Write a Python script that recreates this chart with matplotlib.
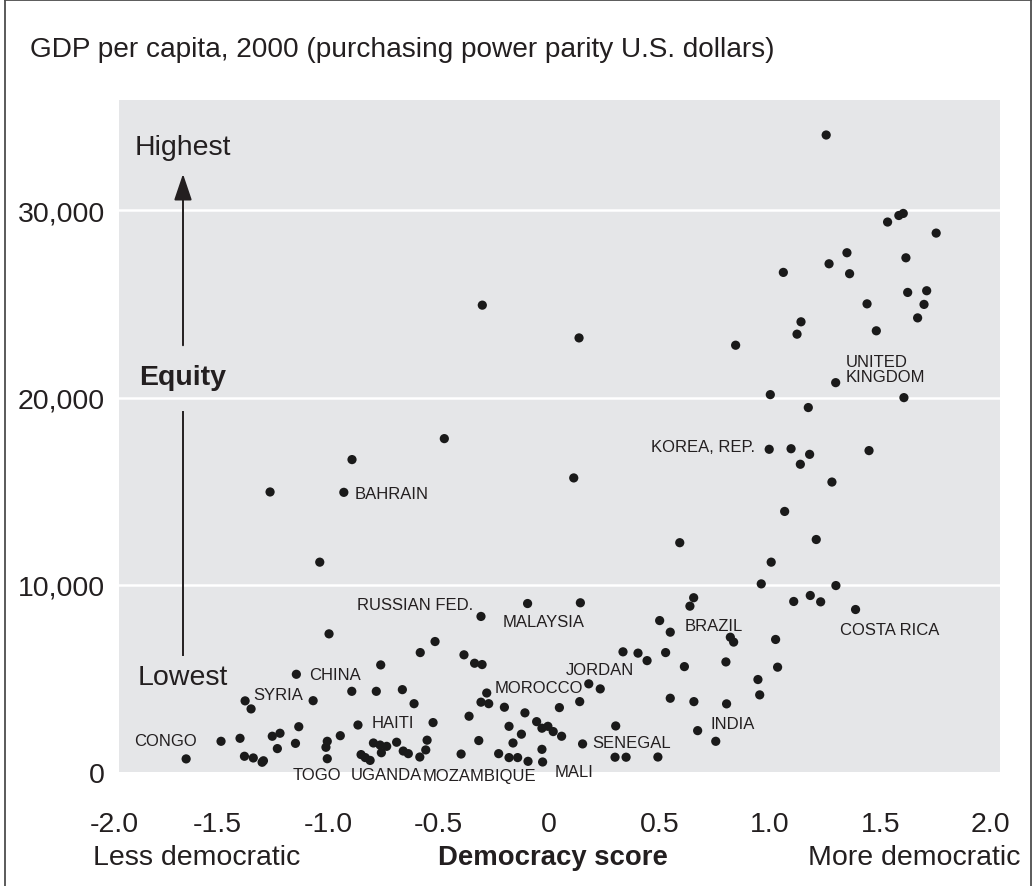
import matplotlib
matplotlib.use("Agg")
import matplotlib.pyplot as plt
from matplotlib import font_manager
from matplotlib.lines import Line2D
import matplotlib.transforms as mtrans

# ---------------- data ----------------
democracy = [
    1.255, 1.604, 1.584, 1.533, 1.753, 1.349, 1.616, 1.268, 1.061, 1.361,
    1.710, 1.624, 1.440, 1.698, 1.669, 1.141, 1.482, 1.123, 0.136, 0.845,
    1.298, 1.002, 1.607, 1.174, -0.302, -0.474, -0.892, -1.263, -0.929, -1.038,
    0.997, 1.096, 1.180, 1.138, 1.449, 0.112, 1.281, 1.067, 1.210, 0.592,
    1.006, 0.961, 1.299, 1.183, 1.108, 1.230, 1.388, 0.142, -0.097, -0.308,
    0.655, 0.638, 0.501, 0.549, 0.821, 0.836, 1.026, 0.335, 0.403, 0.444,
    0.528, 0.613, 0.801, 1.035, 0.946, 0.954, 0.180, 0.232, 0.139, 0.047,
    0.549, 0.656, 0.804, 0.673, 0.755, 0.302, 0.152, 0.019, 0.057, 0.299,
    0.349, 0.493, -0.029, -0.996, -0.516, -0.583, -0.385, -0.337, -0.303, -0.762,
    -1.144, -1.376, -1.349, -1.068, -0.893, -0.782, -0.664, -0.611, -0.282, -0.308,
    -0.273, -0.202, -0.109, -0.362, -0.525, -0.865, -1.133, -0.181, -0.056, -0.032,
    -0.005, -0.125, -0.163, -0.032, -0.095, -0.142, -0.181, -0.228, -0.318, -0.398,
    -0.552, -0.558, -0.585, -0.637, -0.660, -0.690, -0.735, -0.765, -0.795, -0.759,
    -0.810, -0.832, -0.851, -0.945, -1.004, -1.010, -1.004, -1.148, -1.218, -1.253,
    -1.230, -1.399, -1.485, -1.379, -1.339, -1.299, -1.293, -1.643,
]
gdp = [
    34030, 29840, 29730, 29380, 28790, 27740, 27470, 27150, 26690, 26620,
    25710, 25620, 25010, 24980, 24260, 24050, 23570, 23390, 23190, 22800,
    20800, 20160, 20000, 19470, 24940, 17810, 16690, 14960, 14940, 11210,
    17240, 17270, 16970, 16440, 17170, 15710, 15490, 13920, 12420, 12250,
    11210, 10050, 9960, 9430, 9110, 9090, 8680, 9040, 9000, 8310,
    9310, 8860, 8090, 7470, 7200, 6940, 7080, 6420, 6350, 5950,
    6380, 5630, 5880, 5600, 4940, 4120, 4710, 4440, 3760, 3440,
    3940, 3760, 3640, 2210, 1640, 2460, 1500, 2160, 1910, 790,
    790, 800, 535, 7380, 6970, 6380, 6260, 5810, 5740, 5720,
    5220, 3800, 3370, 3810, 4310, 4310, 4400, 3650, 4220, 3730,
    3650, 3460, 3160, 2980, 2640, 2510, 2420, 2440, 2690, 2340,
    2440, 2020, 1550, 1210, 570, 770, 770, 980, 1680, 960,
    1700, 1180, 800, 980, 1120, 1590, 1370, 1440, 1550, 1030,
    620, 770, 930, 1940, 1640, 1320, 710, 1530, 2070, 1910,
    1250, 1800, 1640, 840, 750, 520, 600, 700,
]

country_labels = ["UNITED\nKINGDOM", "KOREA, REP.", "BAHRAIN", "RUSSIAN FED.",
                  "MALAYSIA", "BRAZIL", "COSTA RICA", "JORDAN", "MOROCCO",
                  "CHINA", "SYRIA", "HAITI", "INDIA", "SENEGAL", "CONGO",
                  "TOGO", "UGANDA", "MOZAMBIQUE", "MALI"]
label_x = [1.345, 0.933, -0.878, -0.869, -0.208, 0.616, 1.317, 0.077, -0.244,
           -1.086, -1.340, -0.801, 0.733, 0.195, -1.879, -1.159, -0.896, -0.570, 0.027]
label_y = [21550, 17380, 14870, 8930, 8020, 7810, 7590, 5450, 4490,
           5190, 4120, 2620, 2570, 1550, 1660, -160, -160, -210, 50]
label_ha = ["left", "right", "left", "left", "left", "left", "left", "left", "left",
            "left", "left", "left", "left", "left", "left", "left", "left", "left", "left"]

xtick_values = [-2.0, -1.5, -1.0, -0.5, 0.0, 0.5, 1.0, 1.5, 2.0]
xtick_labels = ["-2.0", "-1.5", "-1.0", "-0.5", "0", "0.5", "1.0", "1.5", "2.0"]
ytick_values = [0, 10000, 20000, 30000]
ytick_labels = ["0", "10,000", "20,000", "30,000"]

title = "GDP per capita, 2000 (purchasing power parity U.S. dollars)"

# ---------------- style ----------------
names = {f.name for f in font_manager.fontManager.ttflist}
fam = ["Liberation Sans Narrow", "DejaVu Sans"] if "Liberation Sans Narrow" in names else ["Liberation Sans", "DejaVu Sans"]
plt.rcParams["font.family"] = fam
TXT = "#231f20"
GRAY = "#e5e6e8"
BIG = 20.5
LAB = 12

fig = plt.figure(figsize=(10.33, 8.87), dpi=100)
ax = fig.add_axes([119 / 1033, 114 / 887, 881 / 1033, 672 / 887])
ax.set_facecolor(GRAY)
ax.set_xlim(-1.947, 2.042)
ax.set_ylim(0, 35900)
for s in ax.spines.values():
    s.set_visible(False)

for yv in ytick_values[1:]:
    ax.axhline(yv, color="white", lw=1.8, zorder=1)

ax.scatter(democracy, gdp, s=44, color="#1a1a1a", edgecolors="none", zorder=3, clip_on=False)

for t, lx, ly, ha in zip(country_labels, label_x, label_y, label_ha):
    ax.text(lx, ly, t, ha=ha, va="center", fontsize=LAB, color=TXT,
            linespacing=1.0, zorder=4, clip_on=False)

# ticks
XPAD = 28
inside = [(v, l) for v, l in zip(xtick_values, xtick_labels) if v >= -1.947]
ax.set_xticks([v for v, _ in inside])
ax.set_xticklabels([l for _, l in inside])
ax.set_yticks(ytick_values)
ax.set_yticklabels(ytick_labels)
ax.tick_params(axis="both", length=0, labelsize=BIG, colors=TXT)
ax.tick_params(axis="x", pad=XPAD)
ax.tick_params(axis="y", pad=10)
for v, l in zip(xtick_values, xtick_labels):
    if v < -1.947:
        ax.annotate(l, xy=(v + 0.03, 0), xycoords=("data", "axes fraction"),
                    xytext=(0, -XPAD), textcoords="offset points",
                    ha="center", va="top", fontsize=BIG, color=TXT,
                    annotation_clip=False)

# equity arrow
ax_x = (183 - 119) / 881
ax.annotate("", xy=(ax_x, 0.890), xytext=(ax_x, 0.635), xycoords="axes fraction",
            arrowprops=dict(arrowstyle="-|>,head_length=0.65,head_width=0.22",
                            color=TXT, lw=1.4, mutation_scale=25, shrinkA=0, shrinkB=0))
ax.add_line(Line2D([ax_x, ax_x], [0.536, 0.174], transform=ax.transAxes, color=TXT, lw=1.4))
ax.text(ax_x, 0.930, "Highest", transform=ax.transAxes, ha="center", va="center",
        fontsize=BIG, color=TXT)
ax.text(ax_x, 0.588, "Equity", transform=ax.transAxes, ha="center", va="center",
        fontsize=BIG, fontweight="bold", color=TXT)
ax.text(ax_x, 0.141, "Lowest", transform=ax.transAxes, ha="center", va="center",
        fontsize=BIG, color=TXT)

# figure texts
fig.text(30 / 1033, 1 - 50 / 887, title, ha="left", va="center", fontsize=20.2, color=TXT)
fig.text(93 / 1033, 1 - 858 / 887, "Less democratic", ha="left", va="center", fontsize=BIG, color=TXT)
fig.text(553 / 1033, 1 - 858 / 887, "Democracy score", ha="center", va="center",
         fontsize=19.8, fontweight="bold", color=TXT)
fig.text(1020 / 1033, 1 - 858 / 887, "More democratic", ha="right", va="center", fontsize=BIG, color=TXT)

# frame around figure
fc = "#4d4d4d"
fig.add_artist(Line2D([5 / 1033, 5 / 1033], [0, 1 - 1 / 887], transform=fig.transFigure, color=fc, lw=1.3))
fig.add_artist(Line2D([5 / 1033, 1031 / 1033], [1 - 1 / 887, 1 - 1 / 887], transform=fig.transFigure, color=fc, lw=1.3))
fig.add_artist(Line2D([1031 / 1033, 1031 / 1033], [0, 1 - 1 / 887], transform=fig.transFigure, color=fc, lw=1.3))

fig.savefig("out.png", dpi=100, facecolor="white")
